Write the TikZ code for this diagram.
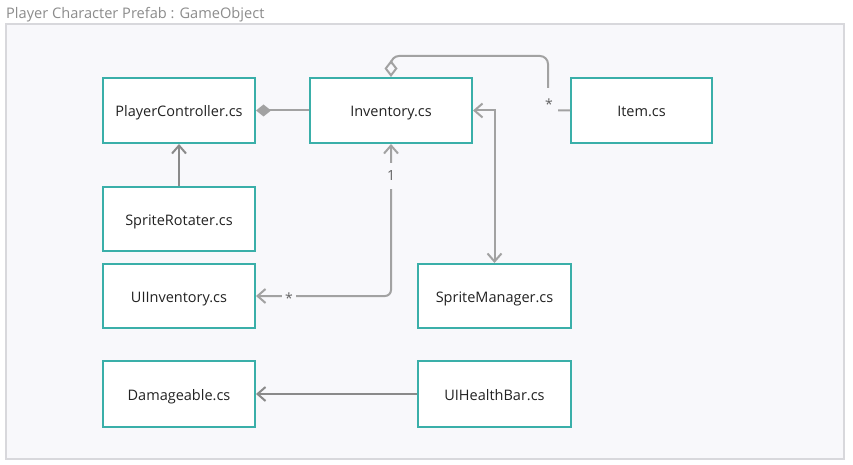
\documentclass[tikz,border=0pt]{standalone}
\usepackage{fontspec}
\setmainfont{Open Sans}
\usetikzlibrary{arrows.meta}
\definecolor{bgc}{HTML}{F8F8FB}
\definecolor{framec}{HTML}{D8D8DC}
\definecolor{clsteal}{HTML}{3AAFA9}
\definecolor{lineg}{HTML}{A2A2A2}
\definecolor{lined}{HTML}{8A8A8A}
\definecolor{titlec}{HTML}{8C8C8C}
\definecolor{txtc}{HTML}{222222}
\begin{document}
\begin{tikzpicture}[x=1pt,y=-1pt,
  cls/.style={draw=clsteal,line width=2pt,fill=white,inner sep=0pt,text=txtc,
    text height=12pt,text depth=0pt,font=\fontsize{14.5}{16}\selectfont},
  conn/.style={draw=lineg,line width=2pt},
  connd/.style={draw=lined,line width=2pt},
  barb/.tip={Straight Barb[length=8pt,width=14pt,line width=2pt]},
  lbl/.style={fill=bgc,inner sep=0pt,text=titlec!70!black,font=\fontsize{14}{16}\selectfont}]
\useasboundingbox (0,0) rectangle (853,465);
\fill[white] (0,0) rectangle (853,465);
\draw[draw=framec,fill=bgc,line width=2pt] (6,24) rectangle (844,459);
\node[anchor=base west,inner sep=0pt,text=titlec,font=\fontsize{14.6}{16}\selectfont] (title) at (6,19) {Player Character Prefab : GameObject};

\node[cls,minimum width=152pt,minimum height=65pt] (pc) at (179,110.5) {PlayerController.cs};
\node[cls,minimum width=162pt,minimum height=65pt] (inv) at (391,110.5) {Inventory.cs};
\node[cls,minimum width=141pt,minimum height=65pt] (item) at (641.5,110.5) {Item.cs};
\node[cls,minimum width=152pt,minimum height=64pt] (sr) at (179,219) {SpriteRotater.cs};
\node[cls,minimum width=152pt,minimum height=64pt] (uii) at (179,296) {UIInventory.cs};
\node[cls,minimum width=153pt,minimum height=64pt] (sm) at (494.5,296) {SpriteManager.cs};
\node[cls,minimum width=152pt,minimum height=66pt] (dmg) at (179,394) {Damageable.cs};
\node[cls,minimum width=153pt,minimum height=66pt] (uih) at (494.5,394) {UIHealthBar.cs};

% composition
\draw[conn,{Diamond[length=15pt,width=12pt,fill=lineg]}-] (pc.east) -- (inv.west);
% aggregation
\draw[conn,{Diamond[open,length=17pt,width=13pt,line width=2pt]}-,rounded corners=8pt]
  (inv.north) |- (548,56) |- (item.west);
\node[lbl,minimum width=18pt,minimum height=32pt] (starA) at (549,104) {*};
% UIInventory
\draw[conn,barb-barb,rounded corners=6pt] (inv.south) |- (uii.east);
\node[lbl,minimum width=12pt,minimum height=26pt] (one) at (391,176) {1};
\node[lbl,minimum width=14pt,minimum height=12pt] (starB) at (289,298) {*};
% SpriteManager
\draw[conn,barb-barb] (inv.east) -| (sm.north);
% SpriteRotater
\draw[connd,-barb] (sr.north) -- (pc.south);
% UIHealthBar
\draw[connd,-barb] (uih.west) -- (dmg.east);
\end{tikzpicture}
\end{document}
